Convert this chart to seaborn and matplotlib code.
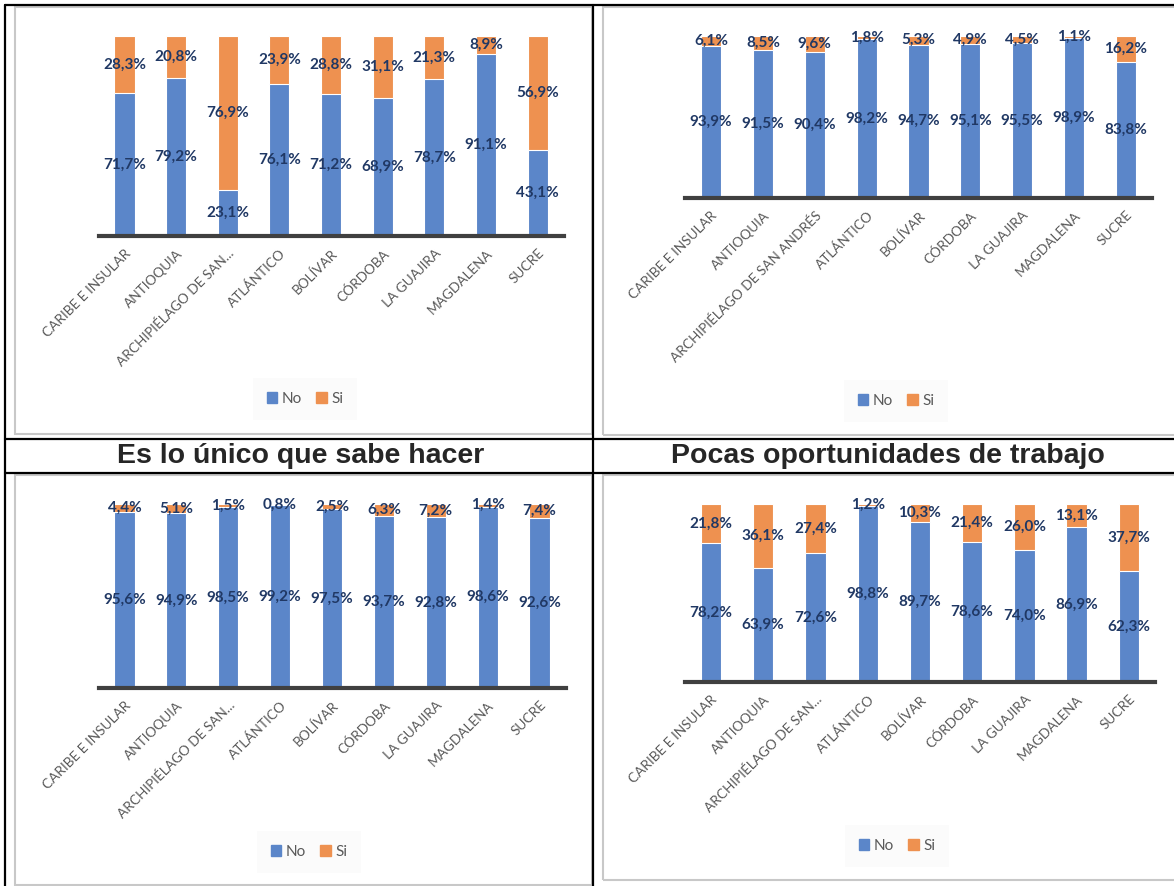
import numpy as np
import pandas as pd
import matplotlib
matplotlib.use("Agg")
import matplotlib.pyplot as plt
import seaborn as sns
from matplotlib.patches import Rectangle
from matplotlib.lines import Line2D

## datos
regiones = ["CARIBE E INSULAR", "ANTIOQUIA", "ARCHIPIÉLAGO DE SAN...", "ATLÁNTICO",
            "BOLÍVAR", "CÓRDOBA", "LA GUAJIRA", "MAGDALENA", "SUCRE"]
regiones_largo = ["CARIBE E INSULAR", "ANTIOQUIA", "ARCHIPIÉLAGO DE SAN ANDRÉS", "ATLÁNTICO",
                  "BOLÍVAR", "CÓRDOBA", "LA GUAJIRA", "MAGDALENA", "SUCRE"]

# arriba izquierda
no_1 = [71.7, 79.2, 23.1, 76.1, 71.2, 68.9, 78.7, 91.1, 43.1]
si_1 = [28.3, 20.8, 76.9, 23.9, 28.8, 31.1, 21.3, 8.9, 56.9]
# arriba derecha
no_2 = [93.9, 91.5, 90.4, 98.2, 94.7, 95.1, 95.5, 98.9, 83.8]
si_2 = [6.1, 8.5, 9.6, 1.8, 5.3, 4.9, 4.5, 1.1, 16.2]
# Es lo unico que sabe hacer
no_3 = [95.6, 94.9, 98.5, 99.2, 97.5, 93.7, 92.8, 98.6, 92.6]
si_3 = [4.4, 5.1, 1.5, 0.8, 2.5, 6.3, 7.2, 1.4, 7.4]
# Pocas oportunidades de trabajo
no_4 = [78.2, 63.9, 72.6, 98.8, 89.7, 78.6, 74.0, 86.9, 62.3]
si_4 = [21.8, 36.1, 27.4, 1.2, 10.3, 21.4, 26.0, 13.1, 37.7]

titulo_3 = "Es lo único que sabe hacer"
titulo_4 = "Pocas oportunidades de trabajo"
series = ["No", "Si"]

sns.set_theme(style="white")
plt.rcParams['font.family'] = ['Lato', 'DejaVu Sans']

azul = "#5B86C9"
naranja = "#EE9150"
navy = "#203864"
gris = "#595959"

W, H = 1174, 886
fig = plt.figure(figsize=(W / 100, H / 100), dpi=100)


def fx(x):
    return x / W


def fy(y):
    return 1 - y / H


def panel(left, right, base, top, cats, no, si, leg_xy):
    ax = fig.add_axes([fx(left), fy(base), (right - left) / W, (base - top) / H])
    df = pd.DataFrame({"region": cats, "No": no, "Si": si})
    df["total"] = df["No"] + df["Si"]
    sns.barplot(data=df, x="region", y="total", color=naranja, saturation=1, width=0.39,
                edgecolor="white", linewidth=0.8, errorbar=None, ax=ax)
    sns.barplot(data=df, x="region", y="No", color=azul, saturation=1, width=0.39,
                edgecolor="white", linewidth=0.8, errorbar=None, ax=ax)
    for i, (n, s) in enumerate(zip(no, si)):
        ax.text(i, n / 2, f"{n:.1f}%".replace(".", ","), ha="center", va="center",
                color=navy, fontsize=11, fontweight="bold")
        ax.text(i, n + s / 2, f"{s:.1f}%".replace(".", ","), ha="center", va="center",
                color=navy, fontsize=11, fontweight="bold")
    ax.set_xlim(-0.5, 8.5)
    ax.set_ylim(0, 100)
    ax.set_yticks([])
    ax.set_xlabel("")
    ax.set_ylabel("")
    ax.set_xticks(range(len(cats)))
    ax.set_xticklabels(cats, rotation=45, ha="right", rotation_mode="anchor",
                       fontsize=9.8, color=gris)
    ax.tick_params(axis="x", length=0, pad=8)
    for sp in ["left", "right", "top"]:
        ax.spines[sp].set_visible(False)
    ax.spines["bottom"].set_color("#404040")
    ax.spines["bottom"].set_linewidth(3)
    ax.patch.set_alpha(0)
    handles = [Rectangle((0, 0), 1, 1, color=azul), Rectangle((0, 0), 1, 1, color=naranja)]
    fig.legend(handles, series, loc="center", bbox_to_anchor=(fx(leg_xy[0]), fy(leg_xy[1])),
               ncol=2, frameon=True, facecolor="#fbfbfb", edgecolor="none", fancybox=False,
               framealpha=1, fontsize=11, labelcolor=gris, handlelength=0.7,
               handleheight=0.7, handletextpad=0.3, columnspacing=0.9, borderpad=0.9)
    return ax


# marcos grises de cada grafico
for x0, y0, x1, y1 in [(15, 7, 592, 434), (603, 7, 1180, 435), (15, 475, 592, 885), (603, 475, 1180, 880)]:
    fig.patches.append(Rectangle((fx(x0), fy(y1)), (x1 - x0) / W, (y1 - y0) / H,
                                 transform=fig.transFigure, fill=False, edgecolor="#c8c8c8", linewidth=1.5))

panel(98.6, 563.5, 236, 36, regiones, no_1, si_1, (305, 399))
panel(685.1, 1151.9, 198, 36, regiones_largo, no_2, si_2, (896, 401))
panel(98.5, 565.5, 688, 504, regiones, no_3, si_3, (309, 852))
panel(684.9, 1155, 682, 504, regiones, no_4, si_4, (897, 846))

# lineas de la tabla
lineas = [((5, 5), (5, 886)), ((5, 1174), (5, 5)), ((593, 593), (5, 886)),
          ((5, 1174), (439, 439)), ((5, 1174), (473, 473))]
for xs, ys in lineas:
    fig.add_artist(Line2D([fx(xs[0]), fx(xs[1])], [fy(ys[0]), fy(ys[1])], color="black", linewidth=1.6))

fig.text(fx(301), fy(456), titulo_3, ha="center", va="center", fontsize=20.5, fontweight="bold",
         family=["Liberation Sans", "DejaVu Sans"])
fig.text(fx(888), fy(456), titulo_4, ha="center", va="center", fontsize=20.5, fontweight="bold",
         family=["Liberation Sans", "DejaVu Sans"])

fig.savefig("out.png", dpi=100)
